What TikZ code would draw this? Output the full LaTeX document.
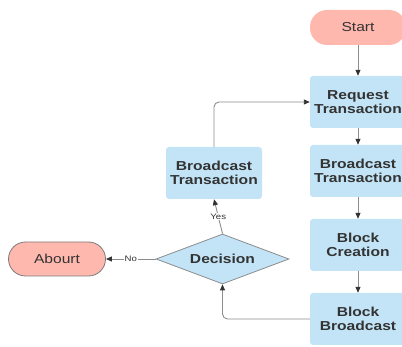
\documentclass[tikz,border=0pt]{standalone}
\usepackage{fontspec}
\usetikzlibrary{arrows.meta,shapes.geometric}
\newfontfamily\chartfont{Liberation Sans}[FakeStretch=1.2]
\definecolor{boxblue}{HTML}{C2E4F6}
\definecolor{termred}{HTML}{FFB8AE}
\definecolor{inkgray}{HTML}{333333}
\definecolor{linegray}{HTML}{8C8C8C}
\definecolor{edgegray}{HTML}{7A7A7A}
\begin{document}
\begin{tikzpicture}[x=1pt,y=-1pt,
  procbox/.style={fill=boxblue, rounded corners=3pt, minimum width=96pt, minimum height=52pt,
    inner sep=0pt, align=center, text=inkgray, font=\chartfont\bfseries\fontsize{13}{14}\selectfont},
  terminal/.style={fill=termred, rounded corners=17pt, minimum width=96pt, minimum height=35pt,
    inner sep=0pt, text=inkgray, font=\chartfont\fontsize{13}{14}\selectfont},
  choice/.style={diamond, aspect=2.66, fill=boxblue, draw=linegray, line width=0.8pt,
    minimum width=133pt, minimum height=50pt, inner sep=0pt, text=inkgray,
    font=\chartfont\bfseries\fontsize{13}{14}\selectfont},
  flow/.style={draw=linegray, line width=0.9pt, -{Triangle[length=6pt,width=5pt,color=inkgray]}},
  tag/.style={fill=white, inner sep=1pt, text=inkgray, font=\chartfont\fontsize{8}{9}\selectfont}]

\useasboundingbox (0,0) rectangle (402,347);

% right-hand column
\node[terminal] (start) at (358,27.5) {Start};
\node[procbox] (req) at (358,102) {Request\\Transaction};
\node[procbox] (rbt) at (358,171) {Broadcast\\Transaction};
\node[procbox] (bc)  at (358,245) {Block\\Creation};
\node[procbox] (bb)  at (358,319) {Block\\Broadcast};

% left-hand branch
\node[procbox] (lbt) at (214,173) {Broadcast\\Transaction};
\node[choice] (dec) at (222.5,259) {Decision};
\node[terminal, draw=edgegray, line width=0.8pt, minimum width=97pt, minimum height=34pt] (ab) at (57,259) {Abourt};

% connectors
\draw[flow] (start) -- (req);
\draw[flow] (req) -- (rbt);
\draw[flow] (rbt) -- (bc);
\draw[flow] (bc) -- (bb);
\draw[flow, rounded corners=5pt] (bb.west) -| (dec.south);
\draw[flow] (dec.north) -- node[tag] {Yes} (lbt.south);
\draw[flow] (dec.west) -- node[tag] {No} (ab.east);
\draw[flow, rounded corners=5pt] (lbt.north) |- (req.west);
\end{tikzpicture}
\end{document}
